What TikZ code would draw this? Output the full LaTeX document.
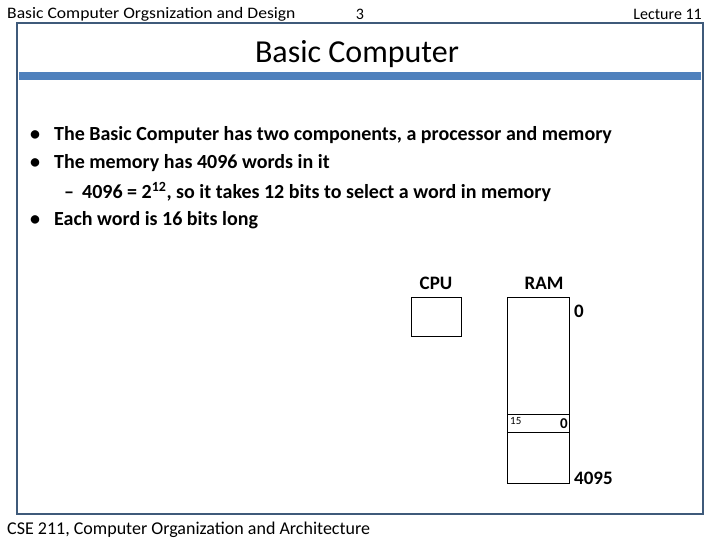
\documentclass[tikz,border=0pt]{standalone}
\usepackage{fontspec}
\setmainfont{Carlito}
\usetikzlibrary{positioning}
\definecolor{framecol}{HTML}{3F5A7A}
\definecolor{barcol}{HTML}{4F81BD}
\begin{document}
\begin{tikzpicture}[
        x=1pt, y=-1pt,
        header/.style={font=\fontsize{16}{18}\selectfont, inner sep=0pt},
        bullet/.style={font=\fontsize{20}{24}\selectfont\bfseries, anchor=west, inner sep=0pt},
        lbl/.style={font=\fontsize{19}{22}\selectfont\bfseries, inner sep=0pt},
        box/.style={draw, line width=0.9pt, inner sep=0pt}
    ]
    \useasboundingbox (0,0) rectangle (720,540);

    % header and footer
    \node[header, anchor=west, xscale=1.1] (course) at (7,14) {Basic Computer Orgsnization and Design};
    \node[header] (page) at (360,14) {3};
    \node[header, anchor=east] (lecture) at (702,14) {Lecture 11};
    \node[header, anchor=west, font=\fontsize{18}{20}\selectfont] (footer) at (7,530) {CSE 211, Computer Organization and Architecture};

    % slide frame and title
    \draw[framecol, line width=2.5pt] (17,23) rectangle (703,514);
    \fill[barcol] (19,72) rectangle (701,80);
    \node[font=\fontsize{32}{36}\selectfont] (title) at (357,54) {Basic Computer};

    % bullets
    \node[bullet] (b1) at (30,135) {\textbullet\hspace{14pt}The Basic Computer has two components, a processor and memory};
    \node[bullet] (b2) at (30,163) {\textbullet\hspace{14pt}The memory has 4096 words in it};
    \node[bullet] (b3) at (64,192) {--\hspace{8pt}4096 = 2\textsuperscript{12}, so it takes 12 bits to select a word in memory};
    \node[bullet] (b4) at (30,220) {\textbullet\hspace{14pt}Each word is 16 bits long};

    % CPU and RAM
    \draw[box] (411,297) rectangle (461,336);
    \node[lbl] (cpu) at (436,283) {CPU};
    \draw[box] (507,297) rectangle (569,483);
    \draw[box] (507,414) -- (569,414) (507,432) -- (569,432);
    \node[lbl] (ram) at (544,283) {RAM};
    \node[lbl, anchor=west] (top) at (574,311) {0};
    \node[lbl, anchor=west] (bot) at (574,478) {4095};
    \node[font=\fontsize{11}{12}\selectfont, anchor=west, inner sep=0pt] (msb) at (510,421) {15};
    \node[font=\fontsize{15}{16}\selectfont\bfseries, anchor=east, inner sep=0pt] (lsb) at (568,424) {0};
\end{tikzpicture}
\end{document}
